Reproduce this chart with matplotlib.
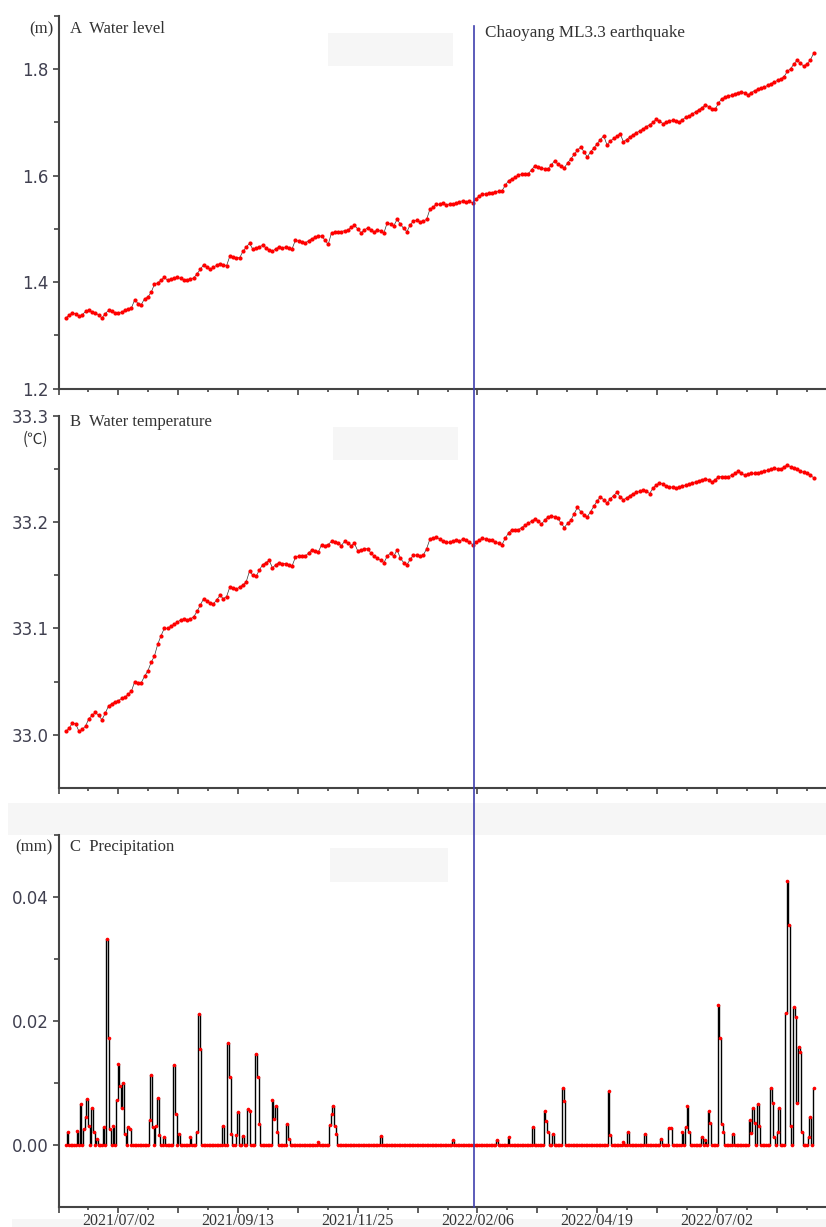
import numpy as np
import pandas as pd
import matplotlib
matplotlib.use('Agg')
import matplotlib.pyplot as plt
import matplotlib.dates as mdates
from matplotlib.patches import Rectangle
from matplotlib.lines import Line2D

# water level (m), one reading every 2 days starting 2021-05-31
level_start = '2021-05-31'
water_level = [
    1.333, 1.338, 1.343, 1.340, 1.336, 1.339, 1.345, 1.347, 1.344, 1.343,
    1.338, 1.333, 1.341, 1.347, 1.345, 1.343, 1.342, 1.344, 1.347, 1.350,
    1.352, 1.367, 1.360, 1.358, 1.369, 1.372, 1.381, 1.396, 1.399, 1.404,
    1.409, 1.404, 1.406, 1.408, 1.409, 1.407, 1.405, 1.405, 1.406, 1.408,
    1.416, 1.424, 1.433, 1.428, 1.424, 1.428, 1.432, 1.435, 1.433, 1.431,
    1.449, 1.447, 1.446, 1.446, 1.458, 1.466, 1.473, 1.462, 1.464, 1.467,
    1.469, 1.465, 1.461, 1.458, 1.463, 1.466, 1.465, 1.466, 1.464, 1.463,
    1.479, 1.477, 1.475, 1.474, 1.478, 1.482, 1.484, 1.486, 1.487, 1.479,
    1.471, 1.493, 1.494, 1.495, 1.495, 1.497, 1.498, 1.503, 1.507, 1.500,
    1.493, 1.498, 1.502, 1.498, 1.495, 1.498, 1.496, 1.493, 1.512, 1.509,
    1.506, 1.518, 1.509, 1.501, 1.495, 1.508, 1.515, 1.516, 1.514, 1.515,
    1.518, 1.537, 1.541, 1.547, 1.546, 1.548, 1.545, 1.547, 1.546, 1.549,
    1.551, 1.553, 1.551, 1.552, 1.549, 1.556, 1.562, 1.565, 1.566, 1.567,
    1.568, 1.570, 1.571, 1.572, 1.582, 1.591, 1.594, 1.597, 1.601, 1.603,
    1.604, 1.604, 1.611, 1.619, 1.616, 1.614, 1.613, 1.613, 1.620, 1.628,
    1.622, 1.618, 1.615, 1.624, 1.632, 1.640, 1.648, 1.654, 1.645, 1.635,
    1.645, 1.652, 1.660, 1.668, 1.675, 1.658, 1.665, 1.670, 1.674, 1.679,
    1.664, 1.668, 1.673, 1.677, 1.681, 1.684, 1.688, 1.692, 1.696, 1.700,
    1.706, 1.703, 1.698, 1.700, 1.702, 1.704, 1.703, 1.701, 1.705, 1.710,
    1.712, 1.716, 1.720, 1.724, 1.728, 1.733, 1.730, 1.726, 1.725, 1.736,
    1.745, 1.747, 1.749, 1.751, 1.754, 1.756, 1.758, 1.755, 1.752, 1.756,
    1.760, 1.762, 1.764, 1.766, 1.770, 1.773, 1.776, 1.779, 1.782, 1.786,
    1.796, 1.801, 1.810, 1.817, 1.811, 1.806, 1.810, 1.817, 1.830,
]

# water temperature (C), same sampling
water_temp = [
    33.003, 33.006, 33.011, 33.010, 33.003, 33.005, 33.008, 33.015, 33.018, 33.021,
    33.018, 33.014, 33.020, 33.027, 33.029, 33.031, 33.032, 33.034, 33.035, 33.038,
    33.041, 33.050, 33.049, 33.049, 33.055, 33.060, 33.068, 33.074, 33.085, 33.093,
    33.100, 33.100, 33.102, 33.104, 33.106, 33.108, 33.109, 33.108, 33.109, 33.111,
    33.116, 33.122, 33.128, 33.126, 33.124, 33.123, 33.127, 33.131, 33.128, 33.130,
    33.139, 33.138, 33.137, 33.139, 33.141, 33.144, 33.154, 33.150, 33.149, 33.155,
    33.160, 33.162, 33.164, 33.157, 33.160, 33.162, 33.161, 33.161, 33.160, 33.159,
    33.167, 33.168, 33.168, 33.168, 33.171, 33.174, 33.173, 33.172, 33.179, 33.178,
    33.179, 33.182, 33.181, 33.180, 33.178, 33.182, 33.180, 33.178, 33.180, 33.173,
    33.174, 33.175, 33.175, 33.171, 33.168, 33.166, 33.164, 33.162, 33.168, 33.171,
    33.168, 33.174, 33.166, 33.162, 33.160, 33.165, 33.169, 33.169, 33.168, 33.169,
    33.175, 33.184, 33.185, 33.186, 33.184, 33.182, 33.181, 33.181, 33.182, 33.183,
    33.182, 33.184, 33.183, 33.181, 33.179, 33.181, 33.183, 33.185, 33.184, 33.183,
    33.183, 33.181, 33.180, 33.179, 33.185, 33.190, 33.193, 33.193, 33.193, 33.195,
    33.197, 33.199, 33.201, 33.203, 33.201, 33.198, 33.202, 33.205, 33.206, 33.205,
    33.204, 33.199, 33.195, 33.199, 33.202, 33.208, 33.214, 33.210, 33.207, 33.205,
    33.210, 33.215, 33.220, 33.224, 33.221, 33.218, 33.222, 33.225, 33.228, 33.224,
    33.221, 33.223, 33.225, 33.227, 33.228, 33.229, 33.230, 33.229, 33.227, 33.232,
    33.235, 33.237, 33.236, 33.234, 33.233, 33.233, 33.232, 33.233, 33.234, 33.235,
    33.236, 33.237, 33.238, 33.239, 33.240, 33.241, 33.240, 33.238, 33.240, 33.243,
    33.243, 33.243, 33.243, 33.244, 33.246, 33.248, 33.246, 33.244, 33.245, 33.246,
    33.246, 33.246, 33.247, 33.248, 33.249, 33.250, 33.251, 33.250, 33.250, 33.252,
    33.254, 33.252, 33.251, 33.250, 33.248, 33.247, 33.246, 33.244, 33.242,
]

# daily precipitation (mm): 457 days from 2021-05-31, only rainy days listed
rain_start = '2021-05-31'
rain_ndays = 457
rain_day = [1, 7, 9, 11, 12, 13, 14, 16, 17, 19, 23, 25, 26, 27, 29, 31, 32, 33, 34, 35,
            36, 38, 39, 51, 52, 53, 55, 56, 57, 60, 66, 67, 69, 76, 80, 81, 82, 96, 99, 100,
            101, 104, 105, 108, 111, 112, 116, 117, 118, 126, 127, 128, 129, 135, 136, 154,
            161, 162, 163, 164, 165, 192, 236, 263, 270, 285, 292, 293, 294, 297, 303, 304,
            331, 332, 340, 343, 353, 363, 368, 369, 376, 378, 379, 380, 388, 390, 392, 393,
            398, 399, 400, 401, 407, 417, 418, 419, 420, 422, 423, 430, 431, 432, 434, 435,
            439, 440, 441, 442, 444, 445, 446, 447, 448, 449, 453, 454, 456]
rain_mm = [0.0021, 0.0022, 0.0066, 0.0025, 0.0045, 0.0074, 0.0030, 0.0060, 0.0020, 0.0010,
           0.0029, 0.0332, 0.0172, 0.0025, 0.0030, 0.0072, 0.0130, 0.0095, 0.0060, 0.0099,
           0.0017, 0.0029, 0.0025, 0.0040, 0.0112, 0.0029, 0.0030, 0.0076, 0.0015, 0.0013,
           0.0128, 0.0050, 0.0017, 0.0013, 0.0021, 0.0211, 0.0155, 0.0030, 0.0164, 0.0110,
           0.0018, 0.0015, 0.0053, 0.0014, 0.0057, 0.0054, 0.0146, 0.0110, 0.0033, 0.0073,
           0.0042, 0.0063, 0.0020, 0.0033, 0.0010, 0.0004,
           0.0032, 0.0050, 0.0062, 0.0030, 0.0018, 0.0014, 0.0008, 0.0007, 0.0012, 0.0028,
           0.0054, 0.0039, 0.0020, 0.0018, 0.0091, 0.0070,
           0.0087, 0.0015, 0.0005, 0.0021, 0.0018, 0.0009, 0.0027, 0.0027, 0.0021, 0.0029,
           0.0063, 0.0020, 0.0013, 0.0008, 0.0054, 0.0035,
           0.0226, 0.0172, 0.0033, 0.0021, 0.0017, 0.0040, 0.0019, 0.0060, 0.0035, 0.0066,
           0.0030, 0.0092, 0.0067, 0.0013, 0.0021, 0.0060,
           0.0212, 0.0425, 0.0355, 0.0030, 0.0223, 0.0207, 0.0067, 0.0157, 0.0149, 0.0020,
           0.0013, 0.0045, 0.0092]

tick_labels = ['2021/07/02', '2021/09/13', '2021/11/25', '2022/02/06', '2022/04/19', '2022/07/02']
quake_date = '2022-02-04'
quake_label = 'Chaoyang ML3.3 earthquake'

W, H = 826, 1227
SERIF = 'Liberation Serif'
TXT = '#333333'
TICK_TXT = '#404050'
SPINE = '#444444'
DOT = 3.0

level_dates = pd.date_range(level_start, periods=len(water_level), freq='2D')
temp_dates = pd.date_range(level_start, periods=len(water_temp), freq='2D')
rain_dates = pd.date_range(rain_start, periods=rain_ndays, freq='D')
rain = np.zeros(rain_ndays)
rain[rain_day] = rain_mm

fig = plt.figure(figsize=(W / 100, H / 100), dpi=100)


#pixel box (top, bottom) -> axes on the figure
def make_axes(top, bottom):
    ax = fig.add_axes([58.5 / W, 1 - bottom / H, 1 - 58.5 / W, (bottom - top) / H])
    ax.set_facecolor('none')
    return ax


ax_a = make_axes(16, 388.7)
ax_b = make_axes(416, 787.7)
ax_c = make_axes(835, 1206.7)

# light gray boxes left over in the original figure
for x0, y0, x1, y1 in [(328, 33, 453, 66), (333, 427, 458, 460), (330, 848, 448, 882),
                       (8, 803, 826, 835), (12, 1219, 826, 1227)]:
    fig.add_artist(Rectangle((x0 / W, 1 - y1 / H), (x1 - x0) / W, (y1 - y0) / H,
                             transform=fig.transFigure, facecolor='#f6f6f6',
                             edgecolor='none', zorder=-5))

# A: water level
ax_a.plot(level_dates, water_level, color='#333333', lw=0.5, zorder=2)
ax_a.plot(level_dates, water_level, ls='none', marker='o', ms=DOT, mfc='red', mec='red',
          mew=0, zorder=3)
ax_a.set_ylim(1.2, 1.9)
ax_a.set_yticks([1.2, 1.4, 1.6, 1.8])
ax_a.set_yticks([1.3, 1.5, 1.7, 1.9], minor=True)
ax_a.set_yticklabels(['%.1f' % v for v in [1.2, 1.4, 1.6, 1.8]])

# B: water temperature
ax_b.plot(temp_dates, water_temp, color='#333333', lw=0.5, zorder=2)
ax_b.plot(temp_dates, water_temp, ls='none', marker='o', ms=DOT, mfc='red', mec='red',
          mew=0, zorder=3)
ax_b.set_ylim(32.95, 33.3)
ax_b.set_yticks([33.0, 33.1, 33.2, 33.3])
ax_b.set_yticks([33.05, 33.15, 33.25], minor=True)
ax_b.set_yticklabels(['%.1f' % v for v in [33.0, 33.1, 33.2, 33.3]])

# C: precipitation
ax_c.step(rain_dates, rain, where='mid', color='black', lw=1.0, zorder=2)
ax_c.plot(rain_dates, rain, ls='none', marker='o', ms=2.6, mfc='red', mec='red',
          mew=0, zorder=3)
ax_c.set_ylim(-0.01, 0.05)
ax_c.set_yticks([0.0, 0.02, 0.04])
ax_c.set_yticks([0.01, 0.03, 0.05], minor=True)
ax_c.set_yticklabels(['%.2f' % v for v in [0.0, 0.02, 0.04]])

# shared date axis: long ticks every 36.5 days, labels every 73 days
first_label = mdates.datestr2num('2021-07-02')
x_left = first_label - 36.5
x_right = x_left + (W - 58.5) / 1.6397
major = np.arange(x_left, x_right, 36.5)
minor = np.arange(x_left, x_right, 18.25)
label_nums = [mdates.datestr2num(s.replace('/', '-')) for s in tick_labels]
major_text = []
for t in major:
    near = [s for s, n in zip(tick_labels, label_nums) if abs(n - t) < 2]
    major_text.append(near[0] if near else '')

for ax in (ax_a, ax_b, ax_c):
    ax.set_xlim(x_left, x_right)
    ax.set_xticks(major)
    ax.set_xticks(minor, minor=True)
    ax.set_xticklabels(major_text)
    for side in ('top', 'right'):
        ax.spines[side].set_visible(False)
    for side in ('left', 'bottom'):
        ax.spines[side].set_linewidth(1.5)
        ax.spines[side].set_color(SPINE)
    ax.tick_params(axis='both', which='both', direction='out', color=SPINE, width=1.2)
    ax.tick_params(axis='x', which='major', length=4.5, pad=0)
    ax.tick_params(axis='x', which='minor', length=2.5)
    ax.tick_params(axis='y', which='major', length=4, pad=3, labelsize=12,
                   labelcolor=TICK_TXT)
    ax.tick_params(axis='y', which='minor', length=3.5)
    for lab in ax.get_yticklabels():
        lab.set_family('DejaVu Sans')

ax_a.tick_params(axis='x', labelbottom=False)
ax_b.tick_params(axis='x', labelbottom=False)
ax_c.tick_params(axis='x', labelsize=11.5, labelcolor=TXT)
for lab in ax_c.get_xticklabels():
    lab.set_family(SERIF)

# panel titles and units
fig.text(53 / W, 1 - 29 / H, '(m)', ha='right', va='center', family=SERIF, size=12, color=TXT)
fig.text(70 / W, 1 - 29 / H, 'A  Water level', ha='left', va='center', family=SERIF, size=12,
         color=TXT)
fig.text(485 / W, 1 - 33 / H, quake_label, ha='left', va='center', family=SERIF, size=12.3,
         color=TXT)
fig.text(70 / W, 1 - 422 / H, 'B  Water temperature', ha='left', va='center', family=SERIF,
         size=12, color=TXT)
fig.text(48 / W, 1 - 439 / H, '(℃)', ha='right', va='center',
         family=['Noto Sans CJK SC', 'DejaVu Sans'], size=11, color=TXT)
fig.text(53 / W, 1 - 847 / H, '(mm)', ha='right', va='center', family=SERIF, size=12, color=TXT)
fig.text(70 / W, 1 - 847 / H, 'C  Precipitation', ha='left', va='center', family=SERIF, size=12,
         color=TXT)

# earthquake marker running through all panels
qx = ax_c.transData.transform((mdates.datestr2num(quake_date), 0))[0] / fig.dpi / fig.get_figwidth()
fig.add_artist(Line2D([qx, qx], [1 - 26 / H, 1 - 1207 / H], transform=fig.transFigure,
                      color='#3f3fae', lw=1.2, zorder=10))

fig.savefig('out.png', dpi=100)
plt.close('all')
